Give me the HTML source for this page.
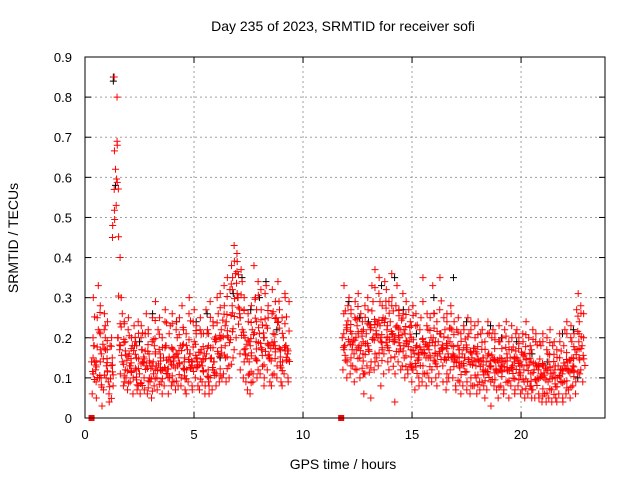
<!DOCTYPE html>
<html><head><meta charset="utf-8"><style>
html,body{margin:0;padding:0;background:#fff;}
svg{display:block;font-family:"Liberation Sans",sans-serif;}
</style></head><body>
<svg id="chart" width="640" height="480">
<rect width="640" height="480" fill="#fff"/>
<text x="343" y="31" font-size="14" text-anchor="middle">Day 235 of 2023, SRMTID for receiver sofi</text>
<text transform="translate(18,238) rotate(-90)" font-size="14" text-anchor="middle">SRMTID / TECUs</text>
<text x="343" y="469" font-size="14" text-anchor="middle">GPS time / hours</text>
<g id="grid"></g>
<g id="ticks"></g>
<g id="black"></g>
<g id="red"></g>
<rect x="85" y="57" width="520" height="361" fill="none" stroke="#000"/>
</svg>
<script>
const xTicks=[0,5,10,15,20];
const yTicks=[0,0.1,0.2,0.3,0.4,0.5,0.6,0.7,0.8,0.9];
const yTickLabels=["0","0.1","0.2","0.3","0.4","0.5","0.6","0.7","0.8","0.9"];
const seg1Start=0.3, seg2Start=11.8, step=0.1;
const seg1Mid=[.14,.18,.12,.22,.10,.16,.20,.13,.09,.15,.45,.62,.20,.17,.14,.19,.12,.16,.13,.18,.12,.15,.11,.17,.14,.13,.16,.10,.14,.18,.13,.16,.12,.15,.18,.11,.14,.17,.13,.16,.15,.18,.14,.12,.17,.16,.13,.19,.15,.14,.17,.13,.16,.12,.18,.15,.14,.19,.16,.20,.22,.18,.24,.20,.28,.32,.36,.30,.26,.22,.20,.16,.14,.18,.22,.19,.24,.21,.17,.20,.23,.18,.15,.21,.19,.25,.17,.14,.20,.18,.16];
const seg1High=[.20,.30,.25,.33,.28,.22,.26,.24,.18,.20,.85,.80,.68,.30,.26,.24,.22,.25,.20,.23,.19,.24,.20,.23,.21,.26,.22,.19,.25,.29,.22,.25,.20,.24,.27,.21,.23,.26,.22,.24,.25,.28,.22,.21,.26,.30,.24,.27,.23,.22,.25,.21,.27,.22,.29,.24,.23,.30,.26,.31,.33,.28,.35,.32,.38,.43,.41,.39,.37,.34,.30,.26,.24,.28,.38,.30,.34,.32,.27,.31,.33,.28,.26,.32,.29,.34,.27,.25,.31,.30,.29];
const seg1Low=[.06,.09,.05,.10,.03,.07,.10,.06,.04,.08,.57,.53,.40,.11,.08,.10,.07,.09,.06,.10,.07,.08,.06,.10,.07,.06,.09,.05,.08,.10,.07,.09,.06,.08,.10,.06,.08,.09,.07,.08,.08,.10,.07,.06,.09,.08,.07,.10,.08,.07,.09,.06,.08,.06,.10,.07,.08,.11,.09,.10,.11,.09,.13,.10,.15,.17,.20,.16,.12,.10,.09,.07,.06,.09,.11,.10,.12,.11,.08,.10,.12,.09,.08,.11,.10,.13,.09,.08,.11,.10,.09];
const seg2Mid=[.20,.18,.22,.19,.21,.17,.20,.23,.18,.16,.19,.21,.17,.22,.20,.24,.21,.23,.19,.25,.22,.20,.24,.21,.19,.23,.20,.22,.18,.21,.19,.17,.20,.16,.18,.15,.17,.19,.16,.18,.17,.20,.18,.16,.19,.21,.17,.15,.18,.20,.18,.16,.15,.17,.14,.16,.15,.17,.14,.16,.15,.13,.16,.14,.15,.12,.14,.16,.13,.15,.14,.12,.15,.13,.14,.16,.12,.15,.13,.14,.15,.13,.14,.12,.16,.13,.11,.14,.12,.13,.12,.11,.13,.10,.12,.14,.11,.12,.10,.13,.12,.11,.13,.14,.12,.15,.13,.17,.19,.21,.18];
const seg2High=[.26,.33,.28,.30,.27,.25,.29,.31,.26,.24,.28,.30,.27,.33,.29,.37,.31,.35,.28,.34,.32,.29,.36,.30,.28,.33,.27,.31,.26,.29,.27,.24,.28,.23,.26,.22,.25,.35,.23,.26,.25,.33,.26,.24,.27,.35,.25,.22,.26,.28,.26,.24,.22,.25,.21,.23,.22,.25,.21,.24,.23,.20,.24,.21,.22,.19,.21,.24,.20,.22,.21,.19,.23,.20,.22,.24,.19,.23,.20,.21,.22,.20,.21,.19,.24,.20,.18,.22,.19,.21,.19,.18,.21,.17,.20,.22,.18,.19,.17,.21,.19,.18,.22,.24,.20,.23,.21,.27,.31,.28,.26];
const seg2Low=[.12,.10,.14,.11,.13,.09,.12,.15,.10,.06,.11,.13,.05,.14,.12,.15,.13,.08,.11,.16,.14,.12,.15,.04,.11,.14,.12,.13,.10,.12,.11,.09,.12,.07,.10,.08,.09,.11,.08,.10,.09,.12,.10,.08,.11,.13,.09,.07,.10,.12,.10,.08,.07,.09,.06,.08,.07,.09,.06,.08,.08,.06,.09,.07,.08,.05,.07,.09,.03,.08,.07,.05,.08,.06,.07,.09,.05,.08,.06,.07,.08,.06,.07,.05,.09,.06,.05,.07,.05,.06,.05,.04,.06,.04,.05,.07,.04,.05,.04,.06,.05,.04,.06,.07,.05,.08,.06,.09,.11,.12,.09];
const blackX=[1.3,1.3,1.4,2.5,3.1,4.2,5.1,5.6,6.2,6.8,7.2,7.6,8.0,8.3,8.8,12.1,12.6,13.0,13.6,14.2,14.6,15.2,16.0,16.9,17.5,18.6,19.1,19.8,20.5,21.2,21.9,22.4,22.6];
const blackY=[.85,.84,.58,.19,.26,.24,.24,.26,.15,.31,.35,.27,.30,.34,.22,.29,.25,.24,.33,.35,.27,.21,.30,.35,.24,.23,.20,.19,.16,.14,.21,.22,.10];
const gapX=[0.3,11.75];
const gapY=[0,0];

const X0=85,X1=605,Y0=418,Y1=57,XMAX=23.85,YMAX=0.9;
const sx=v=>X0+v/XMAX*(X1-X0);
const sy=v=>Y0-v/YMAX*(Y0-Y1);
const jitter=[0,.04,-.03,.02,-.05,.05,-.01,.03,-.04,.01,-.02];
const NS="http://www.w3.org/2000/svg";
function mk(tag,attrs,parent){const e=document.createElementNS(NS,tag);for(const k in attrs)e.setAttribute(k,attrs[k]);parent.appendChild(e);return e;}
const grid=document.getElementById('grid'),ticks=document.getElementById('ticks');
xTicks.forEach(t=>{const x=sx(t);
 if(t>0){const g=mk('line',{x1:x,x2:x,y1:Y0,y2:Y1,stroke:'#a0a0a0','stroke-dasharray':'2,3'},grid);
 
 }
 mk('line',{x1:x,x2:x,y1:Y0,y2:Y0-6,stroke:'#000'},ticks);
 mk('line',{x1:x,x2:x,y1:Y1,y2:Y1+6,stroke:'#000'},ticks);
 const l=mk('text',{x:x,y:Y0+21,'font-size':13,'text-anchor':'middle'},ticks);l.textContent=String(t);
 
 });
yTicks.forEach((t,i)=>{const y=sy(t);
 if(t>0&&t<0.9){const g=mk('line',{x1:X0,x2:X1,y1:y,y2:y,stroke:'#a0a0a0','stroke-dasharray':'2,3'},grid);
 
 }
 mk('line',{x1:X0,x2:X0+6,y1:y,y2:y,stroke:'#000'},ticks);
 mk('line',{x1:X1,x2:X1-6,y1:y,y2:y,stroke:'#000'},ticks);
 const l=mk('text',{x:X0-13,y:y+5,'font-size':13,'text-anchor':'end'},ticks);l.textContent=yTickLabels[i];
 
 });
function plus(g,x,y,c){const px=sx(x),py=sy(y);
 const p=mk('path',{d:`M${px-3.5},${py}h7M${px},${py-3.5}v7`,stroke:c,'stroke-width':1,fill:'none'},g);
 
 }
const bg=document.getElementById('black'),rg=document.getElementById('red');
blackX.forEach((x,i)=>plus(bg,x,blackY[i],'#000'));
[[seg1Start,seg1Mid,seg1High,seg1Low],[seg2Start,seg2Mid,seg2High,seg2Low]].forEach(([s,m,h,l])=>{
 m.forEach((v,i)=>{const t=s+i*step;const j=k=>jitter[(i*3+k)%jitter.length];
 plus(rg,t+j(0),v,'#f00');plus(rg,t+0.03+j(1),h[i],'#f00');plus(rg,t+0.06+j(2),l[i],'#f00');
 plus(rg,t+0.05+j(3),(v+h[i])/2+j(4)*0.4,'#f00');plus(rg,t+0.08+j(5),(v+l[i])/2+j(6)*0.4,'#f00');
 plus(rg,t+0.02+j(7),v+j(8)*0.6,'#f00');plus(rg,t+0.07+j(9),(3*v+l[i])/4+j(10)*0.5,'#f00');});});
gapX.forEach((x,i)=>{const r=mk('rect',{x:sx(x)-3,y:sy(gapY[i])-3,width:6,height:6,fill:'#f00'},rg);
 
 });
</script>
</body></html>
